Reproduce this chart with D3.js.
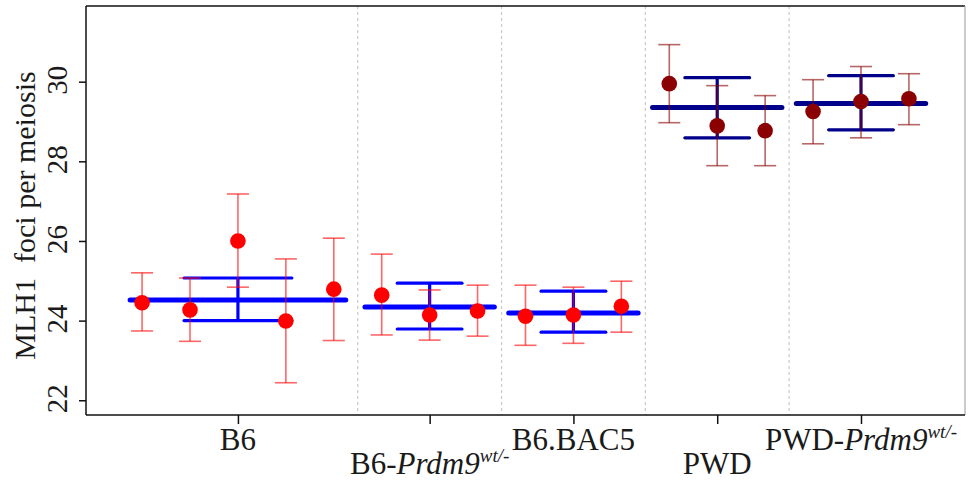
<!DOCTYPE html>
<html>
<head>
<meta charset="utf-8">
<script src="https://cdn.jsdelivr.net/npm/d3@7"></script>
<style>
  html, body { margin: 0; padding: 0; background: #fff; }
  svg { display: block; }
  svg text { font-family: 'Liberation Serif', 'Times New Roman', Times, serif; fill: #1a1a1a; }
</style>
</head>
<body>
<svg id="chart" width="977" height="482"></svg>
<script>
// Strains and number of animals per strain (animals are plotted side by side)
const strains = ["B6", "B6-Prdm9wt/-", "B6.BAC5", "PWD", "PWD-Prdm9wt/-"];
const strainBase = ["B6", "B6-", "B6.BAC5", "PWD", "PWD-"];
const strainGene = ["", "Prdm9", "", "", "Prdm9"];
const strainSup = ["", "wt/-", "", "", "wt/-"];
const animalsPerStrain = [5, 3, 3, 3, 3];

// Per-animal mean MLH1 foci per meiosis with error-bar limits
const animalMean  = [24.45, 24.27, 26.00, 23.99, 24.79, 24.64, 24.14, 24.24, 24.11, 24.14, 24.36, 29.95, 28.89, 28.77, 29.25, 29.50, 29.57];
const animalLower = [23.74, 23.48, 24.84, 22.44, 23.50, 23.64, 23.51, 23.61, 23.38, 23.43, 23.71, 28.97, 27.89, 27.89, 28.44, 28.59, 28.92];
const animalUpper = [25.20, 25.07, 27.18, 25.55, 26.07, 25.67, 24.77, 24.89, 24.89, 24.84, 24.99, 30.93, 29.90, 29.65, 30.05, 30.38, 30.20];

// Strain-level mean and its lower/upper limits
const strainMean  = [24.52, 24.34, 24.19, 29.35, 29.45];
const strainLower = [24.00, 23.79, 23.71, 28.59, 28.79];
const strainUpper = [25.07, 24.94, 24.74, 30.10, 30.15];

const yTicks = [22, 24, 26, 28, 30];

// Colour sets: B6 background strains vs. PWD background strains
const pointColor = ["red", "red", "red", "darkred", "darkred"];
const barColor = ["#0000ff", "#0000ff", "#0000ff", "#00008b", "#00008b"];

const svg = d3.select("#chart");
const plotLeft = 86, plotRight = 965, plotTop = 6, plotBottom = 415;

const x = d3.scaleLinear().domain([-0.17, 18.17]).range([plotLeft, plotRight]);
const y = d3.scaleLinear().domain([21.63, 31.9]).range([plotBottom, plotTop]);

// Build animal records with positions 1..N and their strain index
const animals = [];
const strainCenter = [];
let pos = 1;
animalsPerStrain.forEach((n, s) => {
  strainCenter.push(pos + (n - 1) / 2);
  for (let k = 0; k < n; k++) {
    const i = animals.length;
    animals.push({ pos: pos, s: s, m: animalMean[i], lo: animalLower[i], hi: animalUpper[i] });
    pos++;
  }
});
const strainData = strains.map((name, s) => ({
  s: s, c: strainCenter[s], n: animalsPerStrain[s],
  m: strainMean[s], lo: strainLower[s], hi: strainUpper[s]
}));

// Dashed separators between strains
const sepPos = [];
{ let p = 0; animalsPerStrain.slice(0, -1).forEach(n => { p += n; sepPos.push(p + 0.5); }); }
svg.append("g").selectAll("line").data(sepPos).join("line")
  .attr("x1", d => x(d)).attr("x2", d => x(d))
  .attr("y1", plotTop).attr("y2", plotBottom)
  .attr("stroke", "#c8c8c8").attr("stroke-width", 1.2)
  .attr("stroke-dasharray", "3,3");

// Strain-level bars (range bars, vertical connector, mean line)
const sg = svg.append("g");
strainData.forEach(d => {
  const hw = 0.225 * d.n;
  sg.append("line")
    .attr("x1", x(d.c - hw)).attr("x2", x(d.c + hw))
    .attr("y1", y(d.hi)).attr("y2", y(d.hi))
    .attr("stroke", barColor[d.s]).attr("stroke-width", 3.2).attr("stroke-linecap", "round");
  sg.append("line")
    .attr("x1", x(d.c - hw)).attr("x2", x(d.c + hw))
    .attr("y1", y(d.lo)).attr("y2", y(d.lo))
    .attr("stroke", barColor[d.s]).attr("stroke-width", 3.2).attr("stroke-linecap", "round");
  sg.append("line")
    .attr("x1", x(d.c)).attr("x2", x(d.c))
    .attr("y1", y(d.lo)).attr("y2", y(d.hi))
    .attr("stroke", barColor[d.s]).attr("stroke-width", 3.2);
  const mw = 0.45 * d.n;
  sg.append("line")
    .attr("x1", x(d.c - mw)).attr("x2", x(d.c + mw))
    .attr("y1", y(d.m)).attr("y2", y(d.m))
    .attr("stroke", barColor[d.s]).attr("stroke-width", 5).attr("stroke-linecap", "round");
});

// Per-animal error bars (semi-transparent)
const eg = svg.append("g").attr("stroke-width", 1.6);
animals.forEach(d => {
  const col = pointColor[d.s];
  const cap = 0.23;
  eg.append("line").attr("x1", x(d.pos)).attr("x2", x(d.pos))
    .attr("y1", y(d.lo)).attr("y2", y(d.hi)).attr("stroke", col).attr("stroke-opacity", 0.6);
  eg.append("line").attr("x1", x(d.pos - cap)).attr("x2", x(d.pos + cap))
    .attr("y1", y(d.lo)).attr("y2", y(d.lo)).attr("stroke", col).attr("stroke-opacity", 0.6);
  eg.append("line").attr("x1", x(d.pos - cap)).attr("x2", x(d.pos + cap))
    .attr("y1", y(d.hi)).attr("y2", y(d.hi)).attr("stroke", col).attr("stroke-opacity", 0.6);
});

// Per-animal means
svg.append("g").selectAll("circle").data(animals).join("circle")
  .attr("cx", d => x(d.pos)).attr("cy", d => y(d.m)).attr("r", 7.8)
  .attr("fill", d => pointColor[d.s]);

// Plot frame
svg.append("line").attr("x1", plotLeft).attr("x2", plotRight).attr("y1", plotTop).attr("y2", plotTop)
  .attr("stroke", "#111").attr("stroke-width", 1.5);
svg.append("line").attr("x1", plotRight).attr("x2", plotRight).attr("y1", plotTop).attr("y2", plotBottom)
  .attr("stroke", "#aaa").attr("stroke-width", 1.2);

// Y axis
const yAxis = svg.append("g").attr("transform", `translate(${plotLeft},0)`)
  .call(d3.axisLeft(y).tickValues(yTicks).tickSize(7).tickSizeOuter(0).tickFormat(d3.format("d")));
yAxis.attr("font-family", null);
yAxis.select(".domain").attr("d", `M0,${plotTop}V${plotBottom}`).attr("stroke", "#111").attr("stroke-width", 1.5);
yAxis.selectAll(".tick line").attr("stroke", "#111").attr("stroke-width", 1.5);
yAxis.selectAll(".tick text")
  .attr("x", null).attr("dy", null)
  .attr("transform", "translate(-26,-2) rotate(-90)")
  .attr("text-anchor", "middle")
  .attr("dominant-baseline", "middle")
  .style("font-size", "29px");

// X axis at strain centres
const xAxis = svg.append("g").attr("transform", `translate(0,${plotBottom})`)
  .call(d3.axisBottom(x).tickValues(strainCenter).tickSize(9).tickSizeOuter(0).tickFormat(""));
xAxis.select(".domain").attr("d", `M${plotLeft},0H${plotRight}`).attr("stroke", "#111").attr("stroke-width", 1.5);
xAxis.selectAll(".tick line").attr("stroke", "#111").attr("stroke-width", 1.5);

// Strain labels, alternating between two rows
const labels = svg.append("g").attr("text-anchor", "middle");
strainData.forEach(d => {
  const t = labels.append("text")
    .attr("x", x(d.c)).attr("y", d.s % 2 === 0 ? 450 : 474)
    .style("font-size", "31px");
  t.append("tspan").text(strainBase[d.s]);
  if (strainGene[d.s]) {
    t.append("tspan").style("font-style", "italic").text(strainGene[d.s]);
    t.append("tspan").style("font-style", "italic").style("font-size", "19px")
      .attr("dy", -12).text(strainSup[d.s]);
  }
});

// Y axis title
svg.append("text")
  .attr("transform", `translate(28,${(plotTop + plotBottom) / 2 + 5}) rotate(-90)`)
  .attr("text-anchor", "middle").attr("dominant-baseline", "middle")
  .style("font-size", "30px")
  .style("white-space", "pre")
  .text("MLH1  foci per meiosis");
</script>
</body>
</html>
